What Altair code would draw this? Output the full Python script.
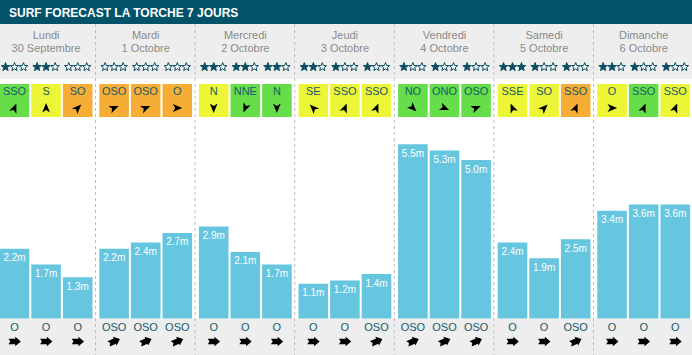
import altair as alt
import pandas as pd

# ---------------- data ----------------
title = "SURF FORECAST LA TORCHE 7 JOURS"
days = ["Lundi", "Mardi", "Mercredi", "Jeudi", "Vendredi", "Samedi", "Dimanche"]
dates = ["30 Septembre", "1 Octobre", "2 Octobre", "3 Octobre", "4 Octobre", "5 Octobre", "6 Octobre"]
wave_m = [2.2, 1.7, 1.3, 2.2, 2.4, 2.7, 2.9, 2.1, 1.7, 1.1, 1.2, 1.4,
          5.5, 5.3, 5.0, 2.4, 1.9, 2.5, 3.4, 3.6, 3.6]
stars = [1, 2, 0, 0, 0, 0, 2, 2, 2, 2, 1, 1, 1, 1, 1, 3, 1, 1, 2, 1, 1]
wind_dir = ["SSO", "S", "SO", "OSO", "OSO", "O", "N", "NNE", "N", "SE", "SSO", "SSO",
            "NO", "ONO", "OSO", "SSE", "SO", "SSO", "O", "SSO", "SSO"]
wind_rating = ["bon", "moyen", "mauvais", "mauvais", "mauvais", "mauvais",
               "moyen", "bon", "bon", "moyen", "moyen", "moyen",
               "bon", "bon", "bon", "moyen", "moyen", "mauvais",
               "moyen", "bon", "moyen"]
swell_dir = ["O", "O", "O", "OSO", "OSO", "OSO", "O", "O", "O", "O", "O", "OSO",
             "OSO", "OSO", "OSO", "O", "O", "OSO", "O", "O", "O"]
compass = ["N", "NNE", "NE", "ENE", "E", "ESE", "SE", "SSE",
           "S", "SSO", "SO", "OSO", "O", "ONO", "NO", "NNO"]
rating_levels = ["bon", "moyen", "mauvais"]

# ---------------- layout / style ----------------
W, H = 692, 355
DAY_W, SLOT, BAR_W, X0, SEP = 99.6, 31.6, 29.6, -0.3, 95.8
STAR_GAP = 9.0
BASE = 318.5          # bar baseline (px from top)
PX_PER_M = 31.7
FONT = "Liberation Sans"
TEAL = "#02536a"
TXT_TEAL = "#17596b"
STAR_C = "#0b4e63"
GREY_BG = "#eeeeee"

WIND_PATH = "M0,-1 L0.78,0.9 L0,0.42 L-0.78,0.9 Z"
SWELL_PATH = ("M0,-1 L0.75,-0.12 L0.45,-0.12 L0.45,0.95 L0,0.66 "
              "L-0.45,0.95 L-0.45,-0.12 L-0.75,-0.12 Z")
STAR_PATH = ("M0,-1 L0.247,-0.34 L0.951,-0.309 L0.399,0.13 L0.588,0.809 "
             "L0,0.42 L-0.588,0.809 L-0.399,0.13 L-0.951,-0.309 L-0.247,-0.34 Z")


def downwind(d):
    return (compass.index(d) * 22.5 + 180) % 360


rows, star_rows = [], []
for i, h in enumerate(wave_m):
    d, s = divmod(i, 3)
    x0 = X0 + d * DAY_W + s * SLOT
    xc = x0 + BAR_W / 2
    rows.append({
        "x0": x0, "x1": x0 + BAR_W, "xc": xc,
        "wave": h, "label": f"{h:.1f}m",
        "wind": wind_dir[i], "rating": wind_rating[i],
        "wind_angle": downwind(wind_dir[i]),
        "swell": swell_dir[i], "swell_angle": downwind(swell_dir[i]),
    })
    for k in range(3):
        star_rows.append({"xs": xc + (k - 1) * STAR_GAP,
                          "on": "plein" if k < stars[i] else "vide"})
slots = pd.DataFrame(rows)
star_df = pd.DataFrame(star_rows)

day_df = pd.DataFrame({
    "day": days, "date": dates,
    "xc": [X0 + d * DAY_W + (2 * SLOT + BAR_W) / 2 for d in range(len(days))],
})
sep_df = pd.DataFrame({"xs": [X0 + d * DAY_W + SEP for d in range(len(days) - 1)]})
one = pd.DataFrame({"k": [0]})

xs = alt.Scale(domain=[0, W], range=[0, W], nice=False, zero=False)
ys = alt.Scale(domain=[0, BASE / PX_PER_M], range=[BASE, 0], nice=False, zero=True)

X0_ = alt.X("x0:Q", scale=xs, axis=None)
XC = alt.X("xc:Q", scale=xs, axis=None)

# backgrounds
title_bg = alt.Chart(one).mark_rect(color=TEAL).encode(
    x=alt.value(0), x2=alt.value(W), y=alt.value(0), y2=alt.value(24))
head_bg = alt.Chart(one).mark_rect(color=GREY_BG).encode(
    x=alt.value(0), x2=alt.value(W), y=alt.value(24), y2=alt.value(79))
foot_bg = alt.Chart(one).mark_rect(color=GREY_BG).encode(
    x=alt.value(0), x2=alt.value(W), y=alt.value(BASE), y2=alt.value(H))
title_txt = alt.Chart(one).mark_text(
    text=title, font=FONT, fontSize=12, fontWeight="bold", color="white",
    align="left", baseline="middle").encode(x=alt.value(9), y=alt.value(12.5))

seps = alt.Chart(sep_df).mark_rule(color="#bdbdbd", strokeDash=[3, 3], strokeWidth=1).encode(
    x=alt.X("xs:Q", scale=xs, axis=None), y=alt.value(24), y2=alt.value(H))

day_txt = alt.Chart(day_df).mark_text(font=FONT, fontSize=11, color="#8a8a8a",
                                      baseline="middle").encode(
    x=XC, y=alt.value(35.5), text="day:N")
date_txt = alt.Chart(day_df).mark_text(font=FONT, fontSize=11, color="#8a8a8a",
                                       baseline="middle").encode(
    x=XC, y=alt.value(48.5), text="date:N")
star_pts = alt.Chart(star_df).mark_point(shape=STAR_PATH, size=80, strokeWidth=1,
                                         stroke=STAR_C, opacity=1).encode(
    x=alt.X("xs:Q", scale=xs, axis=None), y=alt.value(67),
    fill=alt.Fill("on:N", legend=None,
                  scale=alt.Scale(domain=["plein", "vide"], range=[STAR_C, "#f7f7f7"])))

wind_box = alt.Chart(slots).mark_rect().encode(
    x=X0_, x2="x1:Q", y=alt.value(84), y2=alt.value(117),
    color=alt.Color("rating:N", legend=None,
                    scale=alt.Scale(domain=rating_levels,
                                    range=["#66de49", "#ecf636", "#f6ad35"])))
wind_txt = alt.Chart(slots).mark_text(font=FONT, fontSize=11, color=TXT_TEAL,
                                      baseline="middle").encode(
    x=XC, y=alt.value(92), text="wind:N")
wind_arrow = alt.Chart(slots).mark_point(shape=WIND_PATH, filled=True, size=100,
                                         color="black", opacity=1, strokeWidth=0).encode(
    x=XC, y=alt.value(108), angle=alt.Angle("wind_angle:Q", scale=None))

bars = alt.Chart(slots).mark_rect(color="#66c5df").encode(
    x=X0_, x2="x1:Q", y=alt.Y("wave:Q", scale=ys, axis=None), y2=alt.datum(0))
bar_lbl = alt.Chart(slots).mark_text(font=FONT, fontSize=10, color="white",
                                     baseline="middle", dy=9.5).encode(
    x=XC, y=alt.Y("wave:Q", scale=ys, axis=None), text="label:N")

swell_txt = alt.Chart(slots).mark_text(font=FONT, fontSize=11, color=TXT_TEAL,
                                       baseline="middle").encode(
    x=XC, y=alt.value(327.5), text="swell:N")
swell_arrow = alt.Chart(slots).mark_point(shape=SWELL_PATH, filled=True, size=160,
                                          color="black", opacity=1, strokeWidth=0).encode(
    x=XC, y=alt.value(341.5), angle=alt.Angle("swell_angle:Q", scale=None))

chart = alt.layer(
    title_bg, head_bg, foot_bg, seps, wind_box, bars,
    title_txt, day_txt, date_txt, star_pts, wind_txt, wind_arrow,
    bar_lbl, swell_txt, swell_arrow,
).properties(
    width=W, height=H, padding=0, autosize=alt.AutoSizeParams(type="none"),
    background="white",
).configure_view(stroke=None)

chart.save("out.html", embed_options={"renderer": "svg", "actions": False})
